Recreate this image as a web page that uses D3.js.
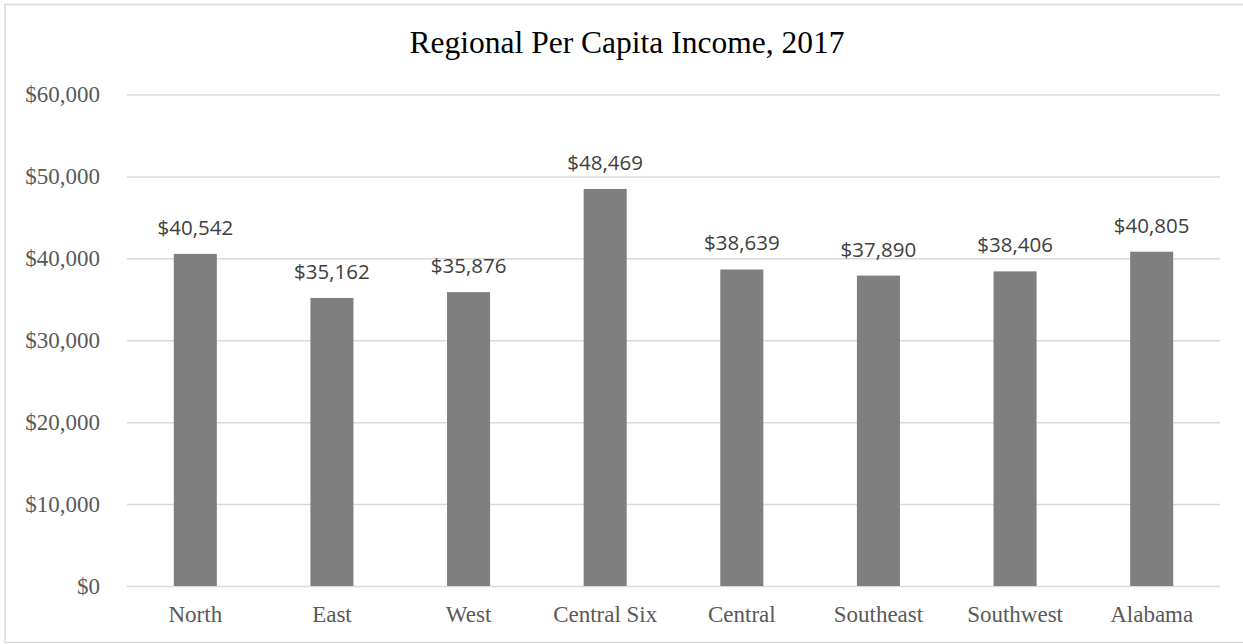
<!DOCTYPE html>
<html>
<head>
<meta charset="utf-8">
<script src="https://cdn.jsdelivr.net/npm/d3@7"></script>
<style>
  html, body { margin: 0; padding: 0; background: #fff; }
  svg { display: block; }
</style>
</head>
<body>
<svg id="chart" width="1243" height="644"></svg>
<script>
const title = "Regional Per Capita Income, 2017";
const categories = ["North", "East", "West", "Central Six", "Central", "Southeast", "Southwest", "Alabama"];
const values = [40542, 35162, 35876, 48469, 38639, 37890, 38406, 40805];
const yTicks = [0, 10000, 20000, 30000, 40000, 50000, 60000];

const W = 1243, H = 644;
const plot = { left: 127, right: 1220, top: 94.5, bottom: 586 };

const svg = d3.select("#chart");

// chart border
svg.append("rect")
  .attr("x", 5).attr("y", 4.5)
  .attr("width", W + 10).attr("height", H - 5 - 1)
  .attr("fill", "#fff")
  .attr("stroke", "#d9d9d9").attr("stroke-width", 1.5);

const x = d3.scaleBand()
  .domain(categories)
  .range([plot.left, plot.right])
  .paddingInner(0.685)
  .paddingOuter(0.3425);

const y = d3.scaleLinear()
  .domain([0, 60000])
  .range([plot.bottom, plot.top]);

const fmt = d => "$" + d3.format(",")(d);

// gridlines
const yAxis = d3.axisLeft(y)
  .tickValues(yTicks)
  .tickSize(-(plot.right - plot.left))
  .tickPadding(27)
  .tickFormat(fmt);

const gy = svg.append("g")
  .attr("transform", `translate(${plot.left},0)`)
  .call(yAxis);
gy.select(".domain").remove();
gy.selectAll(".tick line").attr("stroke", "#d9d9d9").attr("stroke-width", 1.5);
gy.selectAll(".tick text")
  .attr("font-family", "'Liberation Serif', 'Times New Roman', serif")
  .attr("font-size", 23)
  .attr("fill", "#595959");

// bars
svg.append("g").selectAll("rect")
  .data(values)
  .join("rect")
  .attr("x", (d, i) => x(categories[i]))
  .attr("width", x.bandwidth())
  .attr("y", d => y(d))
  .attr("height", d => y(0) - y(d))
  .attr("fill", "#7f7f7f");

// data labels
svg.append("g").selectAll("text")
  .data(values)
  .join("text")
  .attr("x", (d, i) => x(categories[i]) + x.bandwidth() / 2)
  .attr("y", d => y(d) - 19)
  .attr("text-anchor", "middle")
  .attr("font-family", "'Open Sans', sans-serif")
  .attr("font-size", 20.5)
  .attr("fill", "#404040")
  .text(d => fmt(d));

// x axis labels
const xAxis = d3.axisBottom(x).tickSize(0).tickPadding(20);
const gx = svg.append("g")
  .attr("transform", `translate(0,${plot.bottom})`)
  .call(xAxis);
gx.select(".domain").remove();
gx.selectAll(".tick text")
  .attr("font-family", "'Liberation Serif', 'Times New Roman', serif")
  .attr("font-size", 23)
  .attr("fill", "#595959");

// title
svg.append("text")
  .attr("x", 627)
  .attr("y", 53)
  .attr("text-anchor", "middle")
  .attr("font-family", "'Liberation Serif', 'Times New Roman', serif")
  .attr("font-size", 31.5)
  .attr("fill", "#000")
  .text(title);
</script>
</body>
</html>
